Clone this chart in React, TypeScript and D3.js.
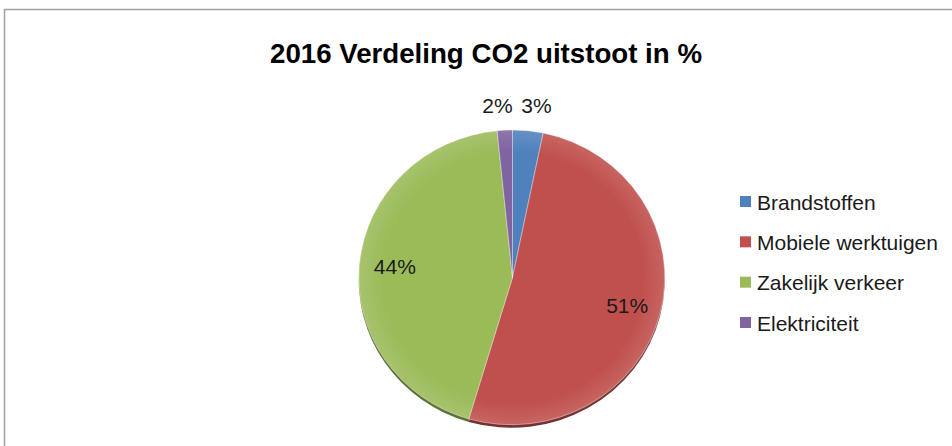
import { useEffect, useRef } from 'react';
import * as d3 from 'd3';

// chart data
const categories = ['Brandstoffen', 'Mobiele werktuigen', 'Zakelijk verkeer', 'Elektriciteit'];
const shares = [3.2, 51.4, 43.8, 1.6];
const colors = ['#4F81BD', '#C0504D', '#9BBB59', '#8064A2'];
const titleText = '2016 Verdeling CO2 uitstoot in %';

const App = () => {
    const svgRef = useRef<SVGSVGElement | null>(null);

    useEffect(() => {
        if (!svgRef.current) return;
        const svg = d3.select(svgRef.current);
        svg.selectAll('*').remove();

        const width = 952;
        const height = 446;

        // outer frame (cut off on the right and bottom like the screenshot)
        svg.append('rect')
            .attr('x', 4.5)
            .attr('y', 9.5)
            .attr('width', width + 20)
            .attr('height', height + 20)
            .attr('fill', '#fff')
            .attr('stroke', '#a0a0a0')
            .attr('stroke-width', 1.5);

        // title
        svg.append('text')
            .attr('x', 486)
            .attr('y', 63)
            .attr('text-anchor', 'middle')
            .attr('font-family', '"Liberation Sans Narrow", "Liberation Sans", sans-serif')
            .attr('font-weight', 700)
            .attr('font-size', 28)
            .attr('textLength', 432)
            .attr('lengthAdjust', 'spacingAndGlyphs')
            .attr('fill', '#000')
            .text(titleText);

        // pie geometry (slightly squashed ellipse)
        const cx = 512.5;
        const cy = 277.5;
        const rx = 153.5;
        const ry = 147.5;

        const data = categories.map((c, i) => ({ name: c, value: shares[i], color: colors[i] }));
        const pie = d3.pie<any>().value(d => d.value).sort(null);
        const arcs = pie(data);
        const arc = d3.arc<any>().innerRadius(0).outerRadius(1);

        // dark rim underneath for the 3D look
        svg.append('g')
            .attr('transform', `translate(${cx},${cy + 3}) scale(${rx},${ry})`)
            .selectAll('path')
            .data(arcs)
            .enter()
            .append('path')
            .attr('d', arc)
            .attr('fill', d => d3.color(d.data.color)!.darker(1.4).toString());

        const defs = svg.append('defs');
        const grad = defs.append('radialGradient').attr('id', 'soft');
        grad.append('stop').attr('offset', '0%').attr('stop-color', '#fff').attr('stop-opacity', 0);
        grad.append('stop').attr('offset', '85%').attr('stop-color', '#fff').attr('stop-opacity', 0);
        grad.append('stop').attr('offset', '100%').attr('stop-color', '#fff').attr('stop-opacity', 0.12);

        const pieG = svg.append('g')
            .attr('transform', `translate(${cx},${cy}) scale(${rx},${ry})`);

        pieG.selectAll('path')
            .data(arcs)
            .enter()
            .append('path')
            .attr('d', arc)
            .attr('fill', d => d.data.color)
            .attr('stroke', 'rgba(255,255,255,0.5)')
            .attr('stroke-width', 0.8)
            .attr('vector-effect', 'non-scaling-stroke');

        pieG.append('circle')
            .attr('r', 1)
            .attr('fill', 'url(#soft)');

        // percentage labels
        const fmt = (v: number) => `${Math.round(v)}%`;
        svg.append('g')
            .selectAll('text')
            .data(arcs)
            .enter()
            .append('text')
            .attr('x', d => {
                const a = (d.startAngle + d.endAngle) / 2;
                const small = d.data.value < 5;
                const f = small ? 1.17 : 0.77;
                const nudge = small ? (Math.sin(a) > 0 ? 6 : -6) : 0;
                return cx + rx * f * Math.sin(a) + nudge;
            })
            .attr('y', d => {
                const a = (d.startAngle + d.endAngle) / 2;
                const f = d.data.value < 5 ? 1.17 : 0.77;
                return cy - ry * f * Math.cos(a);
            })
            .attr('dy', '0.36em')
            .attr('text-anchor', 'middle')
            .attr('font-family', '"Liberation Sans", Arial, sans-serif')
            .attr('font-size', 21)
            .attr('fill', '#1a1a1a')
            .text(d => fmt(d.data.value));

        // legend
        const legendY = d3.scalePoint<string>()
            .domain(categories)
            .range([202, 323]);

        const legend = svg.append('g')
            .selectAll('g')
            .data(data)
            .enter()
            .append('g')
            .attr('transform', d => `translate(740,${legendY(d.name)})`);

        legend.append('rect')
            .attr('x', 0)
            .attr('y', -6)
            .attr('width', 11)
            .attr('height', 11)
            .attr('fill', d => d.color);

        legend.append('text')
            .attr('x', 17)
            .attr('y', 0)
            .attr('dy', '0.36em')
            .attr('font-family', '"Liberation Sans", Arial, sans-serif')
            .attr('font-size', 21)
            .attr('fill', '#1a1a1a')
            .text(d => d.name);
    }, []);

    return (
        <svg
            ref={svgRef}
            width={952}
            height={446}
            style={{ position: 'absolute', left: 0, top: 0, display: 'block' }}
        />
    );
};

export default App;
